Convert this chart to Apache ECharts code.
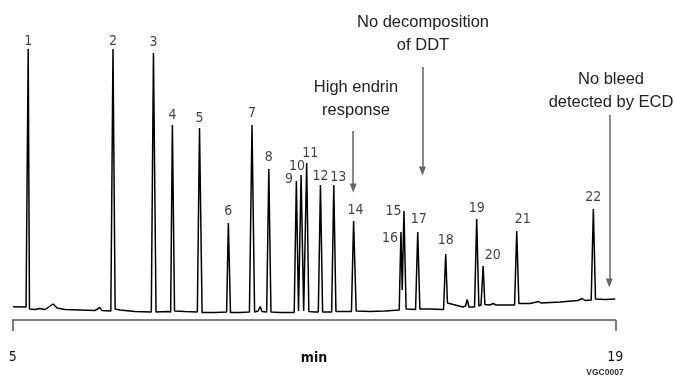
<!DOCTYPE html>
<html>
<head>
<meta charset="utf-8">
<script src="https://cdn.jsdelivr.net/npm/echarts@6/dist/echarts.min.js"></script>
<style>
html,body{margin:0;padding:0;background:#fff;}
#chart{width:675px;height:380px;}
</style>
</head>
<body>
<div id="chart"></div>
<script>
// ---- Data (time in min, detector signal in arbitrary units) ----
const traceTime = [
  5.01, 5.31, 5.36, 5.39, 5.52, 5.63, 5.75, 5.87, 5.94, 6.03, 6.22, 6.56, 6.91, 7.03, 7.07, 7.28,
  7.33, 7.38, 7.49, 7.84, 8.22, 8.27, 8.33, 8.61, 8.67, 8.71, 8.76, 9.00, 9.29, 9.34, 9.40, 9.70,
  9.97, 10.01, 10.06, 10.28, 10.50, 10.56, 10.62, 10.70, 10.75, 10.79, 10.90, 10.95, 11.00, 11.21,
  11.54, 11.59, 11.64, 11.70, 11.76, 11.83, 11.88, 12.02, 12.10, 12.15, 12.20, 12.41, 12.46, 12.51,
  12.72, 12.87, 12.92, 12.98, 13.30, 13.65, 13.98, 14.02, 14.05, 14.09, 14.14, 14.36, 14.41, 14.46,
  14.70, 15.01, 15.06, 15.10, 15.28, 15.46, 15.52, 15.56, 15.60, 15.73, 15.78, 15.83, 15.88, 15.93,
  15.97, 16.09, 16.16, 16.23, 16.66, 16.71, 16.76, 17.02, 17.22, 17.27, 17.72, 18.13, 18.23, 18.30,
  18.44, 18.49, 18.54, 18.76, 19.00
];
const traceSignal = [
  13.3, 13, 271, 11, 10.5, 11.5, 10.5, 14, 16, 12, 10.5, 10, 9.5, 12.5, 9.5, 9,
  271, 11, 10, 8.5, 8, 267, 8, 8.5, 8, 195, 9, 8.5, 8, 192, 7.5, 7.5,
  8, 97, 7.5, 7.5, 8, 195, 8, 9, 13.5, 8.5, 8, 151, 8, 7.5,
  7.5, 139, 9, 145, 9, 157, 8.5, 8, 8, 135, 8, 8, 135, 8.5,
  8.5, 8.5, 99, 9, 8.5, 9, 10, 88, 30, 109, 11, 10.5, 88, 11,
  11, 10.5, 66, 17, 15, 13, 14, 20.5, 13, 13, 101, 14, 15, 54,
  15.5, 15, 16.5, 15, 15, 89, 16.5, 16.5, 18.5, 17, 18, 19.5, 21.5, 19.5,
  20, 111, 21, 20.5, 21
];
const peakNumber = ['1','2','3','4','5','6','7','8','9','10','11','12','13','14','15','16','17','18','19','20','21','22'];
const peakTime   = [5.36, 7.33, 8.27, 8.71, 9.34, 10.01, 10.56, 10.95, 11.59, 11.70, 11.83, 12.15, 12.46, 12.92, 14.09, 14.02, 14.41, 15.06, 15.78, 15.93, 16.71, 18.49];
const peakHeight = [271, 271, 267, 195, 192, 97, 195, 151, 139, 145, 157, 135, 135, 99, 109, 88, 88, 66, 101, 54, 89, 111];
const xTicks = [5, 19];

// annotation arrows: [time, startSignal, endSignal]
const arrowTime  = [12.91, 14.52, 18.86];
const arrowStart = [189, 253, 205];
const arrowEnd   = [132, 149, 37];

// ---- styling (label nudges in px, not data) ----
const labelOffsets = [
  [0,3],[0,3],[0,0],[0,1.5],[0,1],[0,-1],[0,-1],[0,-1],[-7.3,9.8],[-4,2],[3.5,1],
  [0,2],[4.5,3],[2,0],[-10.5,11.2],[-11,17.5],[1,-1.5],[0,-2.5],[0,0],[9.7,0],[6,-0.5],[0,-0.5]
];

const narrow = '"Liberation Sans Narrow", "DejaVu Sans Condensed", sans-serif';
const regular = '"Liberation Sans", Arial, sans-serif';

const traceData = traceTime.map((t, i) => [t, traceSignal[i]]);
const labelData = peakTime.map((t, i) => ({
  value: [t, peakHeight[i]],
  name: peakNumber[i],
  label: { offset: labelOffsets[i] }
}));
const arrowData = arrowTime.map((t, i) => [
  { coord: [t, arrowStart[i]], symbol: 'none' },
  { coord: [t, arrowEnd[i]], symbol: 'triangle' }
]);

const chart = echarts.init(document.getElementById('chart'), null, { renderer: 'canvas' });
chart.setOption({
  animation: false,
  backgroundColor: '#ffffff',
  grid: { left: 12.7, right: 59.7, top: 20, bottom: 60, containLabel: false, outerBoundsMode: 'none' },
  xAxis: {
    type: 'value',
    min: 5, max: 19, interval: 14,
    offset: 14,
    splitLine: { show: false },
    axisLine: { show: true, lineStyle: { color: '#555', width: 1.5 } },
    axisTick: { show: true, length: 11, inside: false, customValues: xTicks, lineStyle: { color: '#555', width: 1.5 } },
    axisLabel: { show: true, customValues: xTicks, margin: 16, color: '#111', fontFamily: narrow, fontSize: 14 },
    name: 'min',
    nameLocation: 'middle',
    nameGap: 17,
    nameMoveOverlap: false,
    nameTextStyle: { color: '#111', fontFamily: narrow, fontSize: 14, fontWeight: 'bold' }
  },
  yAxis: {
    type: 'value', min: 0, max: 300, show: false, splitLine: { show: false }
  },
  series: [
    {
      type: 'line',
      data: traceData,
      showSymbol: false,
      symbol: 'none',
      lineStyle: { color: '#000', width: 1.5 },
      silent: true,
      markLine: {
        silent: true,
        symbolSize: [7, 9],
        lineStyle: { color: '#666', width: 1.5, type: 'solid' },
        itemStyle: { color: '#666' },
        label: { show: false },
        data: arrowData
      }
    },
    {
      type: 'scatter',
      data: labelData,
      symbolSize: 0,
      silent: true,
      label: {
        show: true,
        position: 'top',
        distance: 4,
        formatter: p => p.name,
        color: '#111',
        fontFamily: narrow,
        fontSize: 14
      }
    }
  ],
  graphic: [
    { type: 'text', x: 423, y: 34, style: { text: 'No decomposition\nof DDT', x: 0, y: 0, align: 'center', verticalAlign: 'middle', lineHeight: 22.5, fill: '#222', font: '16.5px ' + regular } },
    { type: 'text', x: 356, y: 99, style: { text: 'High endrin\nresponse', x: 0, y: 0, align: 'center', verticalAlign: 'middle', lineHeight: 23, fill: '#222', font: '16.5px ' + regular } },
    { type: 'text', x: 611, y: 90.5, style: { text: 'No bleed\ndetected by ECD', x: 0, y: 0, align: 'center', verticalAlign: 'middle', lineHeight: 23, fill: '#222', font: '16.5px ' + regular } },
    { type: 'text', x: 605, y: 373, style: { text: 'VGC0007', x: 0, y: 0, align: 'center', verticalAlign: 'middle', fill: '#333', font: 'bold 8.5px ' + regular } }
  ]
});
</script>
</body>
</html>
